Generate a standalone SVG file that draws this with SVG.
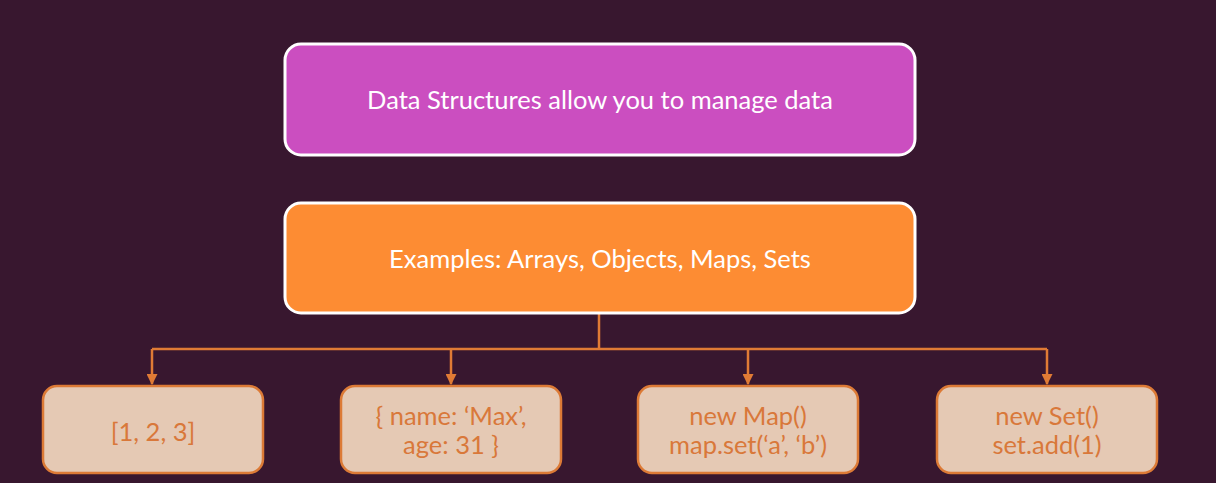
<svg xmlns="http://www.w3.org/2000/svg" width="1216" height="483" viewBox="0 0 1216 483">
<defs>
<style>
.t{font-family:Lato,"Open Sans",sans-serif;font-size:25.5px;text-anchor:middle}
.w{fill:#ffffff}
.o{fill:#d9783a}
.leaf{fill:#e5c9b4;stroke:#dc7a36;stroke-width:2.5}
.con{stroke:#e07b35;stroke-width:2.5;fill:none}
</style>
<marker id="ah" viewBox="0 0 10 10" refX="9" refY="5" markerWidth="4.4" markerHeight="4.4" orient="auto">
<path d="M0,0L10,5L0,10z" fill="#e07b35"/>
</marker>
</defs>
<rect width="1216" height="483" fill="#38172f"/>
<g id="connectors">
<path class="con" d="M599,313V349"/>
<path class="con" d="M152,349H1047"/>
<path class="con" d="M152,349V384" marker-end="url(#ah)"/>
<path class="con" d="M451,349V384" marker-end="url(#ah)"/>
<path class="con" d="M748,349V384" marker-end="url(#ah)"/>
<path class="con" d="M1047,349V384" marker-end="url(#ah)"/>
</g>
<g id="n1">
<rect x="285" y="44" width="630" height="111" rx="16" fill="#cb4ec0" stroke="#ffffff" stroke-width="3"/>
<text class="t w" x="600" y="109">Data Structures allow you to manage data</text>
</g>
<g id="n2">
<rect x="285" y="203" width="630" height="110" rx="16" fill="#fd8c33" stroke="#ffffff" stroke-width="3"/>
<text class="t w" x="600" y="268">Examples: Arrays, Objects, Maps, Sets</text>
</g>
<g id="n3">
<rect class="leaf" x="43" y="386" width="220" height="87" rx="14"/>
<text class="t o" x="153" y="441">[1, 2, 3]</text>
</g>
<g id="n4">
<rect class="leaf" x="341" y="386" width="220" height="87" rx="14"/>
<text class="t o" x="451" y="425">{ name: ‘Max’,</text>
<text class="t o" x="451" y="454">age: 31 }</text>
</g>
<g id="n5">
<rect class="leaf" x="638" y="386" width="220" height="87" rx="14"/>
<text class="t o" x="748" y="425">new Map()</text>
<text class="t o" x="748" y="454">map.set(‘a’, ‘b’)</text>
</g>
<g id="n6">
<rect class="leaf" x="937" y="386" width="220" height="87" rx="14"/>
<text class="t o" x="1047" y="425">new Set()</text>
<text class="t o" x="1047" y="454">set.add(1)</text>
</g>
</svg>
